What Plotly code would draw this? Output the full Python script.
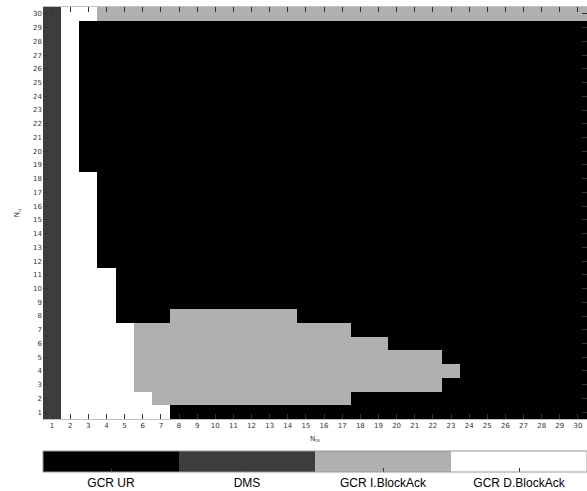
import plotly.graph_objects as go

# Categories: 1 = GCR UR, 2 = DMS, 3 = GCR I.BlockAck, 4 = GCR D.BlockAck
category_labels = ["GCR UR", "DMS", "GCR I.BlockAck", "GCR D.BlockAck"]
category_values = [1, 2, 3, 4]
category_colors = ["#000000", "#3d3d3d", "#b0b0b0", "#ffffff"]

n_rx = list(range(1, 31))
n_u = list(range(1, 31))

# one string per N_u (1..30), one digit per N_rx (1..30)
rows = [
    "244444411111111111111111111111",  # 1
    "244444333333333331111111111111",  # 2
    "244443333333333333333311111111",  # 3
    "244443333333333333333331111111",  # 4
    "244443333333333333333311111111",  # 5
    "244443333333333333311111111111",  # 6
    "244443333333333331111111111111",  # 7
    "244411133333331111111111111111",  # 8
    "244411111111111111111111111111",  # 9
    "244411111111111111111111111111",  # 10
    "244411111111111111111111111111",  # 11
    "244111111111111111111111111111",  # 12
    "244111111111111111111111111111",  # 13
    "244111111111111111111111111111",  # 14
    "244111111111111111111111111111",  # 15
    "244111111111111111111111111111",  # 16
    "244111111111111111111111111111",  # 17
    "244111111111111111111111111111",  # 18
    "241111111111111111111111111111",  # 19
    "241111111111111111111111111111",  # 20
    "241111111111111111111111111111",  # 21
    "241111111111111111111111111111",  # 22
    "241111111111111111111111111111",  # 23
    "241111111111111111111111111111",  # 24
    "241111111111111111111111111111",  # 25
    "241111111111111111111111111111",  # 26
    "241111111111111111111111111111",  # 27
    "241111111111111111111111111111",  # 28
    "241111111111111111111111111111",  # 29
    "244333333333333333333333333333",  # 30
]

z = [[int(c) for c in r] for r in rows]

n = len(category_colors)
colorscale = []
for i, c in enumerate(category_colors):
    colorscale.append([i / n, c])
    colorscale.append([(i + 1) / n, c])

fig = go.Figure(
    go.Heatmap(
        x=n_rx,
        y=n_u,
        z=z,
        zmin=0.5,
        zmax=4.5,
        colorscale=colorscale,
        hoverinfo="skip",
        colorbar=dict(
            orientation="h",
            x=0,
            xanchor="left",
            y=-0.078,
            yanchor="top",
            len=544,
            lenmode="pixels",
            thickness=21,
            xpad=0,
            ypad=0,
            tickvals=category_values,
            ticktext=category_labels,
            ticks="inside",
            ticklen=4,
            tickcolor="#333333",
            tickfont=dict(family="Liberation Sans", size=12, color="#000000"),
            outlinewidth=1,
            outlinecolor="#999999",
        ),
    )
)

tickfont = dict(family="DejaVu Sans", size=7, color="#333333")

fig.update_layout(
    width=587,
    height=491,
    margin=dict(l=43, r=0, t=7, b=72, autoexpand=False),
    paper_bgcolor="white",
    plot_bgcolor="white",
    xaxis=dict(
        range=[0.5, 30.5],
        tickvals=n_rx,
        ticks="inside",
        ticklen=5,
        tickcolor="#333333",
        mirror="ticks",
        showgrid=False,
        zeroline=False,
        showline=True,
        linecolor="#c0c0c0",
        tickfont=tickfont,
        title=dict(text="N<sub>rx</sub>", font=dict(family="DejaVu Sans", size=7, color="#333333"), standoff=6),
    ),
    yaxis=dict(
        range=[0.5, 30.5],
        tickvals=n_u,
        ticks="inside",
        ticklen=5,
        tickcolor="#333333",
        mirror="ticks",
        showgrid=False,
        zeroline=False,
        tickfont=tickfont,
        title=dict(text="N<sub>u</sub>", font=dict(family="DejaVu Sans", size=7, color="#333333"), standoff=12),
    ),
)

fig.write_html(
    "out.html",
    config={"displayModeBar": False},
    post_script="document.body.style.margin='0';document.body.style.overflow='hidden';",
)
